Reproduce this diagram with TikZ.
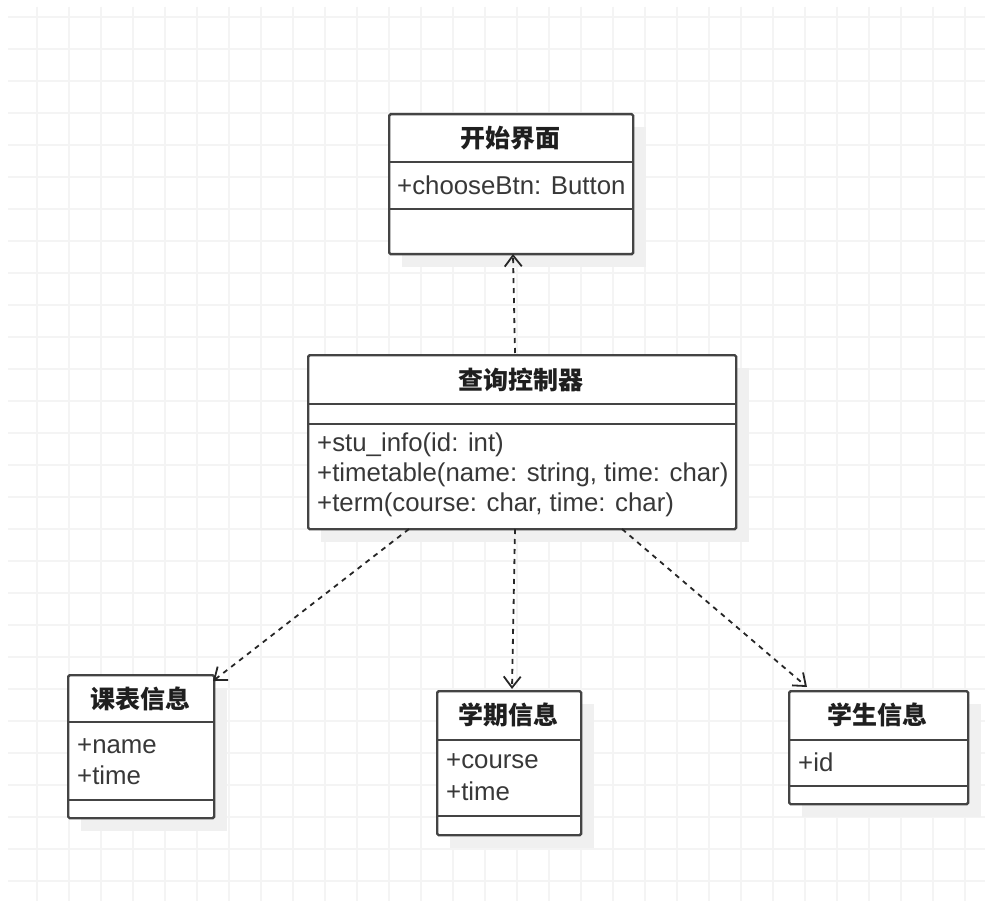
\documentclass[tikz,border=0pt]{standalone}
\usepackage{fontspec}
\setmainfont{Liberation Sans}
\newfontfamily\cjk{Noto Sans CJK SC}
\usetikzlibrary{arrows.meta}
\definecolor{gridc}{HTML}{F4F4F4}
\definecolor{shadowc}{HTML}{F0F0F0}
\definecolor{borderc}{HTML}{444444}
\definecolor{textc}{HTML}{383838}
\tikzset{
  classbox/.style={draw=borderc, line width=2.4pt, rounded corners=1.5pt, fill=white},
  divider/.style={draw=borderc, line width=2.4pt},
  titletext/.style={inner sep=0pt, font=\cjk\bfseries\fontsize{25}{30}\selectfont, text=black!88},
  attrtext/.style={inner sep=0pt, anchor=west, font=\fontsize{25.8}{30}\selectfont, text=textc},
  depline/.style={draw=black!85, line width=1.8pt, dash pattern=on 5pt off 5pt,
    -{Straight Barb[length=11pt,width=17pt,line width=1.8pt]}},
}
\begin{document}
\begin{tikzpicture}[x=1pt,y=-1pt]
\useasboundingbox (0,0) rectangle (985,901);
\fill[white] (0,0) rectangle (985,901);
% grid
\foreach \gx in {37,69,...,985} \draw[gridc, line width=1.6pt] (\gx,7) -- (\gx,901);
\foreach \gy in {17,49,...,901} \draw[gridc, line width=1.6pt] (8,\gy) -- (985,\gy);

% shadows
\fill[shadowc] (402,127) rectangle (646,267);
\fill[shadowc] (321,368) rectangle (749,542);
\fill[shadowc] (81,688) rectangle (227,831);
\fill[shadowc] (450,704) rectangle (594,848);
\fill[shadowc] (802,704) rectangle (981,817);

% Box 1
\node[classbox, anchor=north west, minimum width=244pt, minimum height=140pt, inner sep=0pt] (b1) at (388,113) {};
\draw[divider] (388,162) -- (632,162);
\draw[divider] (388,209) -- (632,209);
\node[titletext] (b1t) at (510,138) {开始界面};
\node[attrtext] (b1a) at (397,185) {+chooseBtn: Button};

% Box 2
\node[classbox, anchor=north west, minimum width=428pt, minimum height=174pt, inner sep=0pt] (b2) at (307,354) {};
\draw[divider] (307,404) -- (735,404);
\draw[divider] (307,424) -- (735,424);
\node[titletext] (b2t) at (521,380) {查询控制器};
\node[attrtext] (b2a) at (317,445) {+stu\_info(id: int)};
\node[attrtext] (b2b) at (317,475) {+timetable(name: string, time: char)};
\node[attrtext] (b2c) at (317,505) {+term(course: char, time: char)};

% Box 3
\node[classbox, anchor=north west, minimum width=146pt, minimum height=143pt, inner sep=0pt] (b3) at (67,674) {};
\draw[divider] (67,722) -- (213,722);
\draw[divider] (67,800) -- (213,800);
\node[titletext] (b3t) at (140,699) {课表信息};
\node[attrtext] (b3a) at (77,746) {+name};
\node[attrtext] (b3b) at (77,775) {+time};

% Box 4
\node[classbox, anchor=north west, minimum width=144pt, minimum height=144pt, inner sep=0pt] (b4) at (436,690) {};
\draw[divider] (436,740) -- (580,740);
\draw[divider] (436,816) -- (580,816);
\node[titletext] (b4t) at (508,715) {学期信息};
\node[attrtext] (b4a) at (446,761) {+course};
\node[attrtext] (b4b) at (446,791) {+time};

% Box 5
\node[classbox, anchor=north west, minimum width=179pt, minimum height=113pt, inner sep=0pt] (b5) at (788,690) {};
\draw[divider] (788,740) -- (967,740);
\draw[divider] (788,786) -- (967,786);
\node[titletext] (b5t) at (877,715) {学生信息};
\node[attrtext] (b5a) at (798,762) {+id};

% connector end points
\coordinate (c1s) at (515,353);
\coordinate (c1e) at (513,254);
\coordinate (c2s) at (409,529);
\coordinate (c2e) at (213,681);
\coordinate (c3s) at (515,529);
\coordinate (c3e) at (512,689);
\coordinate (c4s) at (622,529);
\coordinate (c4e) at (807,687);

\draw[depline] (c1s) -- (c1e);
\draw[depline] (c2s) -- (c2e);
\draw[depline] (c3s) -- (c3e);
\draw[depline] (c4s) -- (c4e);
\end{tikzpicture}
\end{document}
